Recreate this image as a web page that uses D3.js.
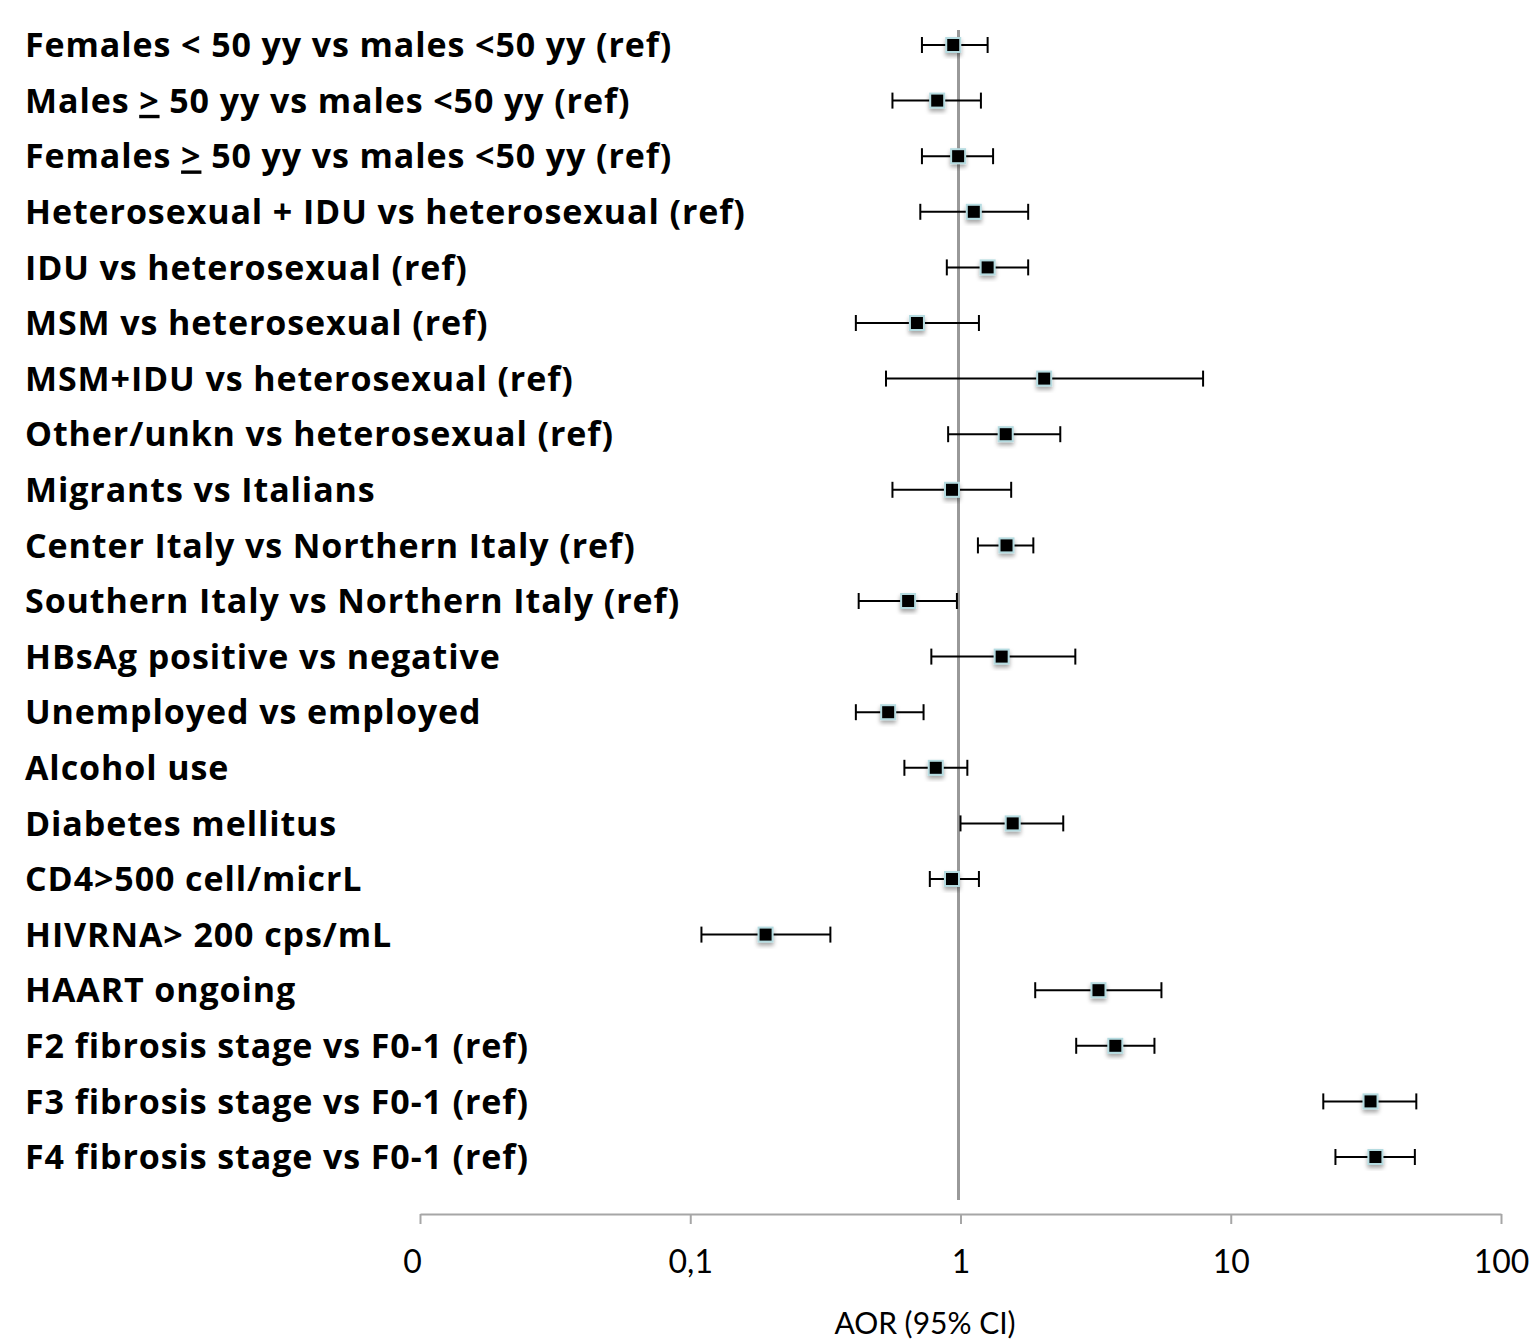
<html>
<head>
<script src="https://d3js.org/d3.v7.min.js"></script>
<style>
  body { margin: 0; background: #fff; }
</style>
</head>
<body>
<svg id="chart" width="1536" height="1341"></svg>
<script>
// rows, top to bottom ("_>" = underlined >, as in the source figure)
var labels = [
  "Females < 50 yy vs males <50 yy (ref)",
  "Males _> 50 yy vs males <50 yy (ref)",
  "Females _> 50 yy vs males <50 yy (ref)",
  "Heterosexual + IDU vs heterosexual (ref)",
  "IDU vs heterosexual (ref)",
  "MSM vs heterosexual (ref)",
  "MSM+IDU vs heterosexual (ref)",
  "Other/unkn vs heterosexual (ref)",
  "Migrants vs Italians",
  "Center Italy vs Northern Italy (ref)",
  "Southern Italy vs Northern Italy (ref)",
  "HBsAg positive vs negative",
  "Unemployed vs employed",
  "Alcohol use",
  "Diabetes mellitus",
  "CD4>500 cell/micrL",
  "HIVRNA> 200 cps/mL",
  "HAART ongoing",
  "F2 fibrosis stage vs F0-1 (ref)",
  "F3 fibrosis stage vs F0-1 (ref)",
  "F4 fibrosis stage vs F0-1 (ref)"
];
var aor   = [0.94, 0.82, 0.98, 1.12, 1.26, 0.69, 2.04, 1.47, 0.93, 1.48, 0.64, 1.42, 0.54, 0.81, 1.56, 0.93, 0.19, 3.24, 3.74, 32.9, 34.3];
var lower = [0.72, 0.56, 0.72, 0.71, 0.89, 0.41, 0.53, 0.90, 0.56, 1.16, 0.42, 0.78, 0.41, 0.62, 1.00, 0.77, 0.11, 1.89, 2.68, 22.0, 24.4];
var upper = [1.26, 1.19, 1.32, 1.78, 1.78, 1.17, 7.90, 2.34, 1.54, 1.86, 0.97, 2.66, 0.73, 1.06, 2.40, 1.17, 0.33, 5.54, 5.22, 48.6, 48.0];

var tickValues = [0.01, 0.1, 1, 10, 100];
var tickLabels = ["0", "0,1", "1", "10", "100"];

var data = labels.map(function(l, i) {
  return { label: l, aor: aor[i], lo: lower[i], hi: upper[i] };
});

var svg = d3.select("#chart");

var x = d3.scaleLog()
  .domain([0.01, 100])
  .range([420, 1501]);

var y = d3.scalePoint()
  .domain(labels)
  .range([45, 1157]);

var axisY = 1214;

// drop shadow for the markers
var defs = svg.append("defs");
var f = defs.append("filter").attr("id", "shadow")
  .attr("x", "-50%").attr("y", "-50%").attr("width", "200%").attr("height", "200%");
f.append("feDropShadow")
  .attr("dx", 0).attr("dy", 3).attr("stdDeviation", 2)
  .attr("flood-color", "#000").attr("flood-opacity", 0.35);

// x axis
var xAxis = d3.axisBottom(x)
  .tickValues(tickValues)
  .tickFormat(function(d, i) { return tickLabels[i]; })
  .tickSize(10)
  .tickSizeOuter(0);

var gx = svg.append("g")
  .attr("transform", "translate(0," + axisY + ")")
  .call(xAxis);
gx.select(".domain").attr("stroke", "#a6a6a6").attr("stroke-width", 2);
gx.selectAll(".tick line").attr("stroke", "#a6a6a6").attr("stroke-width", 2);
gx.selectAll(".tick text")
  .attr("y", 0)
  .attr("dy", 59)
  .attr("fill", "#000")
  .style("font-family", "Lato, 'Open Sans', sans-serif")
  .style("font-size", "32px");
gx.selectAll(".tick text").filter(function(d) { return d === 0.01; }).attr("dx", -8);

svg.append("text")
  .attr("x", 925)
  .attr("y", 1334)
  .attr("text-anchor", "middle")
  .style("font-family", "Lato, 'Open Sans', sans-serif")
  .style("font-size", "30px")
  .text("AOR (95% CI)");

// reference line at AOR = 1
svg.append("line")
  .attr("x1", x(1) - 2).attr("x2", x(1) - 2)
  .attr("y1", 30).attr("y2", 1200)
  .attr("stroke", "#999")
  .attr("stroke-width", 3);

// row labels
var lab = svg.append("g").selectAll("text")
  .data(data)
  .join("text")
  .attr("x", 25)
  .attr("y", function(d) { return y(d.label); })
  .attr("dy", "0.36em")
  .style("font-family", "'Open Sans', sans-serif")
  .style("font-weight", "bold")
  .style("font-size", "34px")
  .style("letter-spacing", "0.9px");

lab.each(function(d) {
  var t = d3.select(this);
  var parts = d.label.split("_>");
  parts.forEach(function(p, i) {
    if (i > 0) {
      t.append("tspan").style("text-decoration", "underline").text(">");
    }
    t.append("tspan").text(p);
  });
});

// confidence intervals
var bars = svg.append("g").selectAll("g")
  .data(data)
  .join("g")
  .attr("stroke", "#000")
  .attr("stroke-width", 2);

bars.append("line")
  .attr("x1", function(d) { return x(d.lo); })
  .attr("x2", function(d) { return x(d.hi); })
  .attr("y1", function(d) { return y(d.label); })
  .attr("y2", function(d) { return y(d.label); });

bars.append("line")
  .attr("x1", function(d) { return x(d.lo); })
  .attr("x2", function(d) { return x(d.lo); })
  .attr("y1", function(d) { return y(d.label) - 8; })
  .attr("y2", function(d) { return y(d.label) + 8; });

bars.append("line")
  .attr("x1", function(d) { return x(d.hi); })
  .attr("x2", function(d) { return x(d.hi); })
  .attr("y1", function(d) { return y(d.label) - 8; })
  .attr("y2", function(d) { return y(d.label) + 8; });

// point estimates
svg.append("g").selectAll("rect")
  .data(data)
  .join("rect")
  .attr("x", function(d) { return x(d.aor) - 7; })
  .attr("y", function(d) { return y(d.label) - 7; })
  .attr("width", 14)
  .attr("height", 14)
  .attr("fill", "#000")
  .attr("stroke", "#b5dbe0")
  .attr("stroke-width", 2)
  .attr("filter", "url(#shadow)");
</script>
</body>
</html>
